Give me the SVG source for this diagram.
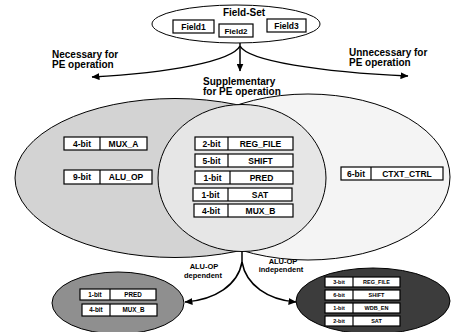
<svg xmlns="http://www.w3.org/2000/svg" width="455" height="332" viewBox="0 0 455 332">
<defs>
<style>
text{font-family:"Liberation Sans",Arial,sans-serif;font-weight:bold;fill:#000}
.lbl{font-size:10px}
.fld{font-size:8.5px;text-anchor:middle}
.bt{font-size:8.5px;text-anchor:middle}
.st{font-size:6.3px;text-anchor:middle}
.rt{font-size:5.5px;text-anchor:middle}
.al{font-size:7.5px;text-anchor:middle}
.box{fill:#fff;stroke:#000;stroke-width:1.2}
.ell{stroke:#000;stroke-width:1}
.con{fill:none;stroke:#000;stroke-width:1.5}
</style>
<marker id="ah" markerUnits="userSpaceOnUse" markerWidth="8" markerHeight="7" refX="7.5" refY="3.5" orient="auto">
<path d="M0,0 L8,3.5 L0,7 z" fill="#000"/>
</marker>
</defs>
<rect width="455" height="332" fill="#fff"/>

<g id="fieldset">
<ellipse class="ell" cx="236" cy="24" rx="84" ry="19" fill="#fff"/>
<text x="244" y="16" class="fld" style="font-size:10px">Field-Set</text>
<rect class="box" x="173" y="20" width="41" height="13"/>
<text x="193.5" y="29.5" class="fld">Field1</text>
<rect class="box" x="219" y="24" width="34" height="13"/>
<text x="236" y="33.5" class="fld" style="font-size:8px">Field2</text>
<rect class="box" x="267" y="19" width="39" height="13"/>
<text x="286.5" y="28.5" class="fld">Field3</text>
</g>

<g id="labels-top">
<text x="52" y="58" class="lbl">Necessary for</text>
<text x="52" y="68" class="lbl">PE operation</text>
<text x="349" y="56" class="lbl">Unnecessary for</text>
<text x="349" y="66" class="lbl">PE operation</text>
<text x="203" y="85" class="lbl">Supplementary</text>
<text x="203" y="95" class="lbl">for PE operation</text>
</g>

<g id="necessary">
<ellipse class="ell" cx="175" cy="178" rx="160" ry="79.5" fill="#d3d3d3"/>
</g>
<g id="unnecessary">
<ellipse class="ell" cx="308" cy="177" rx="142" ry="83" fill="#f4f4f4"/>
</g>
<g id="supplementary">
<ellipse class="ell" cx="242" cy="178" rx="84" ry="73.5" fill="#e6e6e6"/>
</g>

<g id="mux_a">
<rect class="box" x="64" y="137" width="83" height="13"/>
<line x1="100" y1="137" x2="100" y2="150" stroke="#000" stroke-width="1.2"/>
<text x="82" y="146.5" class="bt">4-bit</text>
<text x="123.5" y="146.5" class="bt">MUX_A</text>
</g>
<g id="alu_op">
<rect class="box" x="64" y="170" width="88" height="14"/>
<line x1="100" y1="170" x2="100" y2="184" stroke="#000" stroke-width="1.2"/>
<text x="82" y="180" class="bt">9-bit</text>
<text x="126" y="180" class="bt">ALU_OP</text>
</g>

<g id="reg_file">
<rect class="box" x="195" y="137" width="98" height="13"/>
<line x1="228" y1="137" x2="228" y2="150" stroke="#000" stroke-width="1.2"/>
<text x="211.5" y="146.5" class="bt">2-bit</text>
<text x="260.5" y="146.5" class="bt">REG_FILE</text>
</g>
<g id="shift">
<rect class="box" x="195" y="154" width="98" height="13"/>
<line x1="228" y1="154" x2="228" y2="167" stroke="#000" stroke-width="1.2"/>
<text x="211.5" y="163.5" class="bt">5-bit</text>
<text x="260.5" y="163.5" class="bt">SHIFT</text>
</g>
<g id="pred">
<rect class="box" x="195" y="171" width="98" height="13"/>
<line x1="230" y1="171" x2="230" y2="184" stroke="#000" stroke-width="1.2"/>
<text x="212.5" y="180.5" class="bt">1-bit</text>
<text x="261.5" y="180.5" class="bt">PRED</text>
</g>
<g id="sat">
<rect class="box" x="193" y="188" width="99" height="13"/>
<line x1="228" y1="188" x2="228" y2="201" stroke="#000" stroke-width="1.2"/>
<text x="210.5" y="197.5" class="bt">1-bit</text>
<text x="260" y="197.5" class="bt">SAT</text>
</g>
<g id="mux_b">
<rect class="box" x="194" y="204" width="99" height="13"/>
<line x1="228" y1="204" x2="228" y2="217" stroke="#000" stroke-width="1.2"/>
<text x="211" y="213.5" class="bt">4-bit</text>
<text x="260.5" y="213.5" class="bt">MUX_B</text>
</g>
<g id="ctxt_ctrl">
<rect class="box" x="341" y="167" width="102" height="13"/>
<line x1="371" y1="167" x2="371" y2="180" stroke="#000" stroke-width="1.2"/>
<text x="356" y="176.5" class="bt">6-bit</text>
<text x="407" y="176.5" class="bt">CTXT_CTRL</text>
</g>

<g id="dependent">
<ellipse class="ell" cx="118" cy="303" rx="66" ry="31" fill="#8f8f8f"/>
<rect class="box" x="80" y="289" width="76" height="11"/>
<line x1="110" y1="289" x2="110" y2="300" stroke="#000" stroke-width="1.2"/>
<text x="95" y="296.8" class="st">1-bit</text>
<text x="133" y="296.8" class="st">PRED</text>
<rect class="box" x="82" y="304" width="75" height="12"/>
<line x1="110" y1="304" x2="110" y2="316" stroke="#000" stroke-width="1.2"/>
<text x="96" y="312.3" class="st">4-bit</text>
<text x="133.5" y="312.3" class="st">MUX_B</text>
</g>

<g id="independent">
<ellipse class="ell" cx="373" cy="301" rx="77" ry="33" fill="#3c3c3c"/>
<rect class="box" x="325" y="277" width="75" height="10"/>
<line x1="353" y1="277" x2="353" y2="287" stroke="#000" stroke-width="1.2"/>
<text x="339" y="284" class="rt">3-bit</text>
<text x="376.5" y="284" class="rt">REG_FILE</text>
<rect class="box" x="325" y="290" width="75" height="10"/>
<line x1="353" y1="290" x2="353" y2="300" stroke="#000" stroke-width="1.2"/>
<text x="339" y="297" class="rt">6-bit</text>
<text x="376.5" y="297" class="rt">SHIFT</text>
<rect class="box" x="325" y="303" width="75" height="10"/>
<line x1="353" y1="303" x2="353" y2="313" stroke="#000" stroke-width="1.2"/>
<text x="339" y="310" class="rt">1-bit</text>
<text x="376.5" y="310" class="rt">WDB_EN</text>
<rect class="box" x="325" y="316" width="75" height="10"/>
<line x1="353" y1="316" x2="353" y2="326" stroke="#000" stroke-width="1.2"/>
<text x="339" y="323" class="rt">2-bit</text>
<text x="376.5" y="323" class="rt">SAT</text>
</g>

<g id="labels-bottom">
<text x="204" y="269" class="al">ALU-OP</text>
<text x="203" y="277.5" class="al">dependent</text>
<text x="283" y="264" class="al">ALU-OP</text>
<text x="281" y="272" class="al">independent</text>
</g>

<g id="connectors">
<path class="con" d="M240,43 L240,71" marker-end="url(#ah)"/>
<path class="con" d="M240,46 C232,61 170,73 92,77" marker-end="url(#ah)"/>
<path class="con" d="M240,46 C248,61 320,72 408,76" marker-end="url(#ah)"/>
<path class="con" d="M242,251 L242,264"/>
<path class="con" d="M242,262 C238,285 215,300 185,302" marker-end="url(#ah)"/>
<path class="con" d="M242,262 C246,285 268,300 296,302" marker-end="url(#ah)"/>
</g>
</svg>
